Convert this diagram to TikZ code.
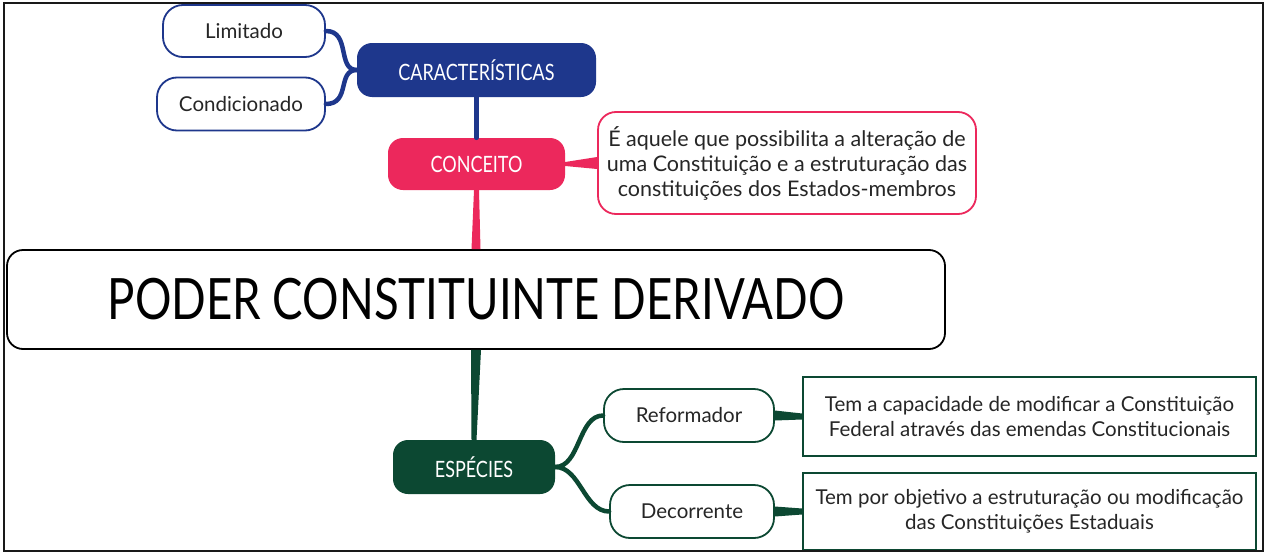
\documentclass[tikz,border=0pt]{standalone}
\usepackage{fontspec}
\setmainfont{Lato}
\newfontfamily\narrowfont[FakeStretch=0.8]{Lato}
\usetikzlibrary{calc}
\definecolor{cblue}{RGB}{30,55,140}
\definecolor{cpink}{RGB}{236,40,92}
\definecolor{cgreen}{RGB}{12,72,50}
\begin{document}
\begin{tikzpicture}[x=1pt,y=-1pt,
  leaf/.style={draw=#1, line width=1.8pt, fill=white, rounded corners=20pt, inner sep=0pt,
    font=\fontsize{20.5}{24}\selectfont, text=black!85},
  head/.style={fill=#1, rounded corners=15pt, inner sep=0pt, text=white,
    font=\narrowfont\fontsize{22.5}{26}\selectfont},
  desc/.style={draw=cgreen, line width=1.8pt, fill=white, inner sep=0pt, align=center,
    font=\fontsize{20.5}{25}\selectfont, text=black!85},
  conn/.style={draw=#1, line width=4.5pt, line cap=round}
]
\useasboundingbox (0,0) rectangle (1267,557);
\fill[white] (0,0) rectangle (1267,557);

% nodes
\node[leaf=cblue, minimum width=162pt, minimum height=52pt] (lim) at (244,31) {Limitado};
\node[leaf=cblue, minimum width=168pt, minimum height=53pt] (cond) at (241,104) {Condicionado};
\node[head=cblue, minimum width=239pt, minimum height=54pt] (car) at (476.5,70) {CARACTERÍSTICAS};
\node[head=cpink, minimum width=177pt, minimum height=52pt] (con) at (476.5,164) {CONCEITO};
\node[draw=cpink, line width=1.8pt, fill=white, rounded corners=18pt, inner sep=0pt,
  minimum width=378pt, minimum height=102pt, align=center,
  font=\fontsize{21.5}{25}\selectfont, text=black!85] (def) at (787,163)
  {É aquele que possibilita a alteração de\\uma Constituição e a estruturação das\\constituições dos Estados-membros};
\node[draw=black, line width=1.8pt, fill=white, rounded corners=16pt, inner sep=0pt,
  minimum width=938pt, minimum height=99pt,
  font=\narrowfont\fontsize{57}{62}\selectfont] (main) at (476,299.5) {PODER CONSTITUINTE DERIVADO};
\node[head=cgreen, minimum width=162pt, minimum height=54pt] (esp) at (474,467) {ESPÉCIES};
\node[leaf=cgreen, minimum width=170pt, minimum height=53pt] (ref) at (689,415.5) {Reformador};
\node[leaf=cgreen, minimum width=164pt, minimum height=53pt] (dec) at (692,511.5) {Decorrente};
\node[desc, minimum width=453pt, minimum height=79pt] (d1) at (1029.5,416.5)
  {Tem a capacidade de modificar a Constituição\\Federal através das emendas Constitucionais};
\node[desc, minimum width=453pt, minimum height=77pt] (d2) at (1029.5,511.5)
  {Tem por objetivo a estruturação ou modificação\\das Constituições Estaduais};

% connectors
\draw[conn=cblue] (lim.east) .. controls +(25,0) and +(-20,0) .. (car.west);
\draw[conn=cblue] (cond.east) .. controls +(25,0) and +(-20,0) .. (car.west);
\draw[conn=cblue] (car.south) -- (con.north);
\fill[cpink] ($(con.east)+(0,-2)$) -- ($(def.west)+(0,-6)$) -- ($(def.west)+(0,6)$) -- ($(con.east)+(0,2)$) -- cycle;
\fill[cpink] ($(con.south)+(-2.5,0)$) -- ($(main.north)+(-4.5,0)$) -- ($(main.north)+(4.5,0)$) -- ($(con.south)+(2.5,0)$) -- cycle;
\fill[cgreen] ($(main.south)+(-5,0)$) -- ($(esp.north)+(-2.5,0)$) -- ($(esp.north)+(2.5,0)$) -- ($(main.south)+(5,0)$) -- cycle;
\draw[conn=cgreen] (esp.east) .. controls +(25,0) and +(-25,0) .. (ref.west);
\draw[conn=cgreen] (esp.east) .. controls +(25,0) and +(-25,0) .. (dec.west);
\fill[cgreen] ($(ref.east)+(0,-5)$) -- ($(d1.west)+(0,-3)$) -- ($(d1.west)+(0,3)$) -- ($(ref.east)+(0,5)$) -- cycle;
\fill[cgreen] ($(dec.east)+(0,-5)$) -- ($(d2.west)+(0,-3)$) -- ($(d2.west)+(0,3)$) -- ($(dec.east)+(0,5)$) -- cycle;

% frame
\draw[line width=2pt, black!90] (4,3) rectangle (1263,551);
\end{tikzpicture}
\end{document}
